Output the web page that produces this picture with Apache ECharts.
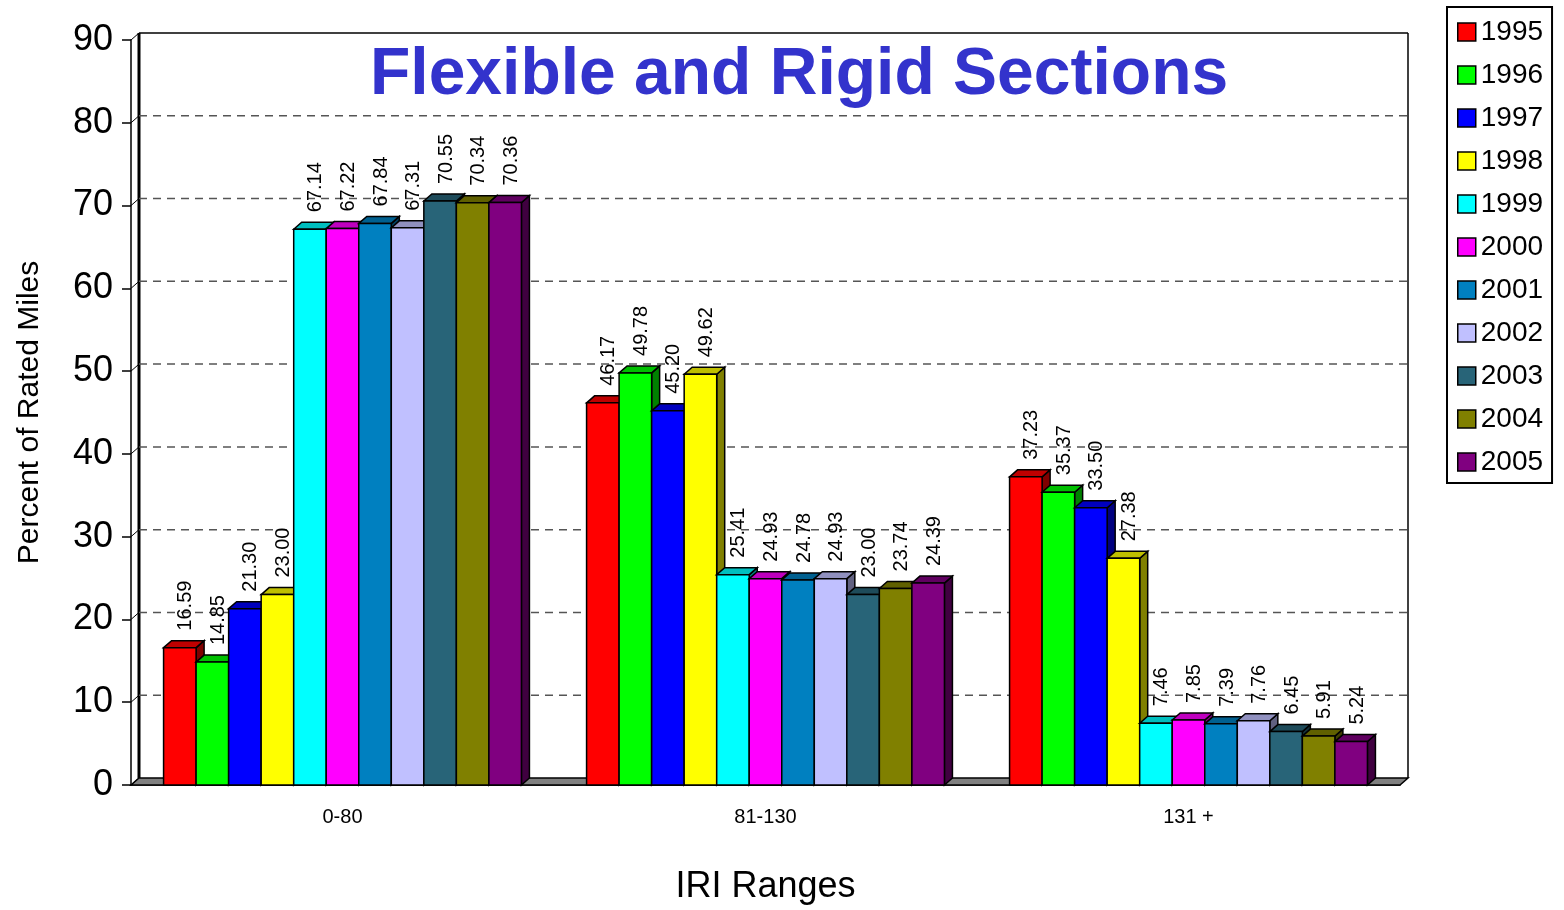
<!DOCTYPE html>
<html>
<head>
<meta charset="utf-8">
<script src="https://cdn.jsdelivr.net/npm/echarts@6/dist/echarts.min.js"></script>
<style>
  html, body { margin: 0; padding: 0; background: #fff; }
  #chart { width: 1564px; height: 910px; }
</style>
</head>
<body>
<div id="chart"></div>
<script>
// data
var categories = ["0-80", "81-130", "131 +"];
var years = ["1995", "1996", "1997", "1998", "1999", "2000", "2001", "2002", "2003", "2004", "2005"];
var v1995 = [16.59, 46.17, 37.23];
var v1996 = [14.85, 49.78, 35.37];
var v1997 = [21.30, 45.20, 33.50];
var v1998 = [23.00, 49.62, 27.38];
var v1999 = [67.14, 25.41, 7.46];
var v2000 = [67.22, 24.93, 7.85];
var v2001 = [67.84, 24.78, 7.39];
var v2002 = [67.31, 24.93, 7.76];
var v2003 = [70.55, 23.00, 6.45];
var v2004 = [70.34, 23.74, 5.91];
var v2005 = [70.36, 24.39, 5.24];
var yTicks = [0, 10, 20, 30, 40, 50, 60, 70, 80, 90];

var seriesValues = [v1995, v1996, v1997, v1998, v1999, v2000, v2001, v2002, v2003, v2004, v2005];
var colors = ["#FF0000", "#00FF00", "#0000FF", "#FFFF00", "#00FFFF", "#FF00FF",
  "#0080C0", "#C0C0FF", "#286478", "#808000", "#800080"];

// 3d depth of the bars / walls
var DX = 8, DY = 7;
var GROUP = 0.846;

function shade(hex, f) {
  var n = parseInt(hex.slice(1), 16);
  var r = Math.round(((n >> 16) & 255) * f);
  var g = Math.round(((n >> 8) & 255) * f);
  var b = Math.round((n & 255) * f);
  return "rgb(" + r + "," + g + "," + b + ")";
}

function barRenderer(idx) {
  return function (params, api) {
    var c = api.value(0), v = api.value(1);
    var base = api.coord([c, 0]);
    var top = api.coord([c, v]);
    var band = api.size([1, 0])[0];
    var gw = band * GROUP;
    var bw = gw / years.length;
    var x0 = base[0] - gw / 2 + idx * bw;
    var x1 = x0 + bw;
    var ty = top[1], by = base[1];
    var col = colors[idx];
    return {
      type: "group",
      children: [
        {
          type: "polygon",
          shape: { points: [[x1, ty], [x1 + DX, ty - DY], [x1 + DX, by - DY], [x1, by]] },
          style: { fill: shade(col, 0.5), stroke: "#000", lineWidth: 1.5 }
        },
        {
          type: "polygon",
          shape: { points: [[x0, ty], [x0 + DX, ty - DY], [x1 + DX, ty - DY], [x1, ty]] },
          style: { fill: shade(col, 0.75), stroke: "#000", lineWidth: 1.5 }
        },
        {
          type: "rect",
          shape: { x: x0, y: ty, width: bw, height: by - ty },
          style: { fill: col, stroke: "#000", lineWidth: 1.5 }
        },
        {
          type: "text",
          x: x0 + bw / 2 + 6,
          y: ty - 17,
          rotation: Math.PI / 2,
          z2: 100,
          style: {
            text: v.toFixed(2),
            x: 0, y: 0,
            align: "left",
            verticalAlign: "middle",
            fill: "#000",
            font: "20px 'Liberation Sans', Arial, sans-serif"
          }
        }
      ]
    };
  };
}

function wallRenderer(params, api) {
  var cs = params.coordSys;
  var v = api.value(1);
  var y = api.coord([0, v])[1];
  var left = cs.x, right = cs.x + cs.width;
  var floorY = cs.y + cs.height, topY = cs.y;
  var kids = [];
  if (v === yTicks[0]) {
    kids.push({
      type: "polygon",
      shape: { points: [[left, y], [right, y], [right + DX, y - DY], [left + DX, y - DY]] },
      style: { fill: "#808080", stroke: "#000", lineWidth: 1.5 }
    });
    kids.push({
      type: "line",
      shape: { x1: left + DX, y1: floorY - DY, x2: left + DX, y2: topY - DY },
      style: { stroke: "#000", lineWidth: 3 }
    });
    kids.push({
      type: "line",
      shape: { x1: right + DX, y1: floorY - DY, x2: right + DX, y2: topY - DY },
      style: { stroke: "#000", lineWidth: 1.5 }
    });
  } else if (v === yTicks[yTicks.length - 1]) {
    kids.push({
      type: "line",
      shape: { x1: left + DX, y1: y - DY, x2: right + DX, y2: y - DY },
      style: { stroke: "#000", lineWidth: 1.5 }
    });
  } else {
    kids.push({
      type: "line",
      shape: { x1: left + DX, y1: y - DY, x2: right + DX, y2: y - DY },
      style: { stroke: "#555", lineWidth: 1.5, lineDash: [8, 6] }
    });
  }
  kids.push({
    type: "line",
    shape: { x1: left, y1: y, x2: left + DX, y2: y - DY },
    style: { stroke: "#000", lineWidth: 1 }
  });
  return { type: "group", children: kids };
}

var chart = echarts.init(document.getElementById("chart"));

var series = [{
  name: "walls",
  type: "custom",
  z: 1,
  silent: true,
  renderItem: wallRenderer,
  data: yTicks.map(function (t) { return [0, t]; })
}];
years.forEach(function (yr, i) {
  series.push({
    name: yr,
    type: "custom",
    z: 2,
    renderItem: barRenderer(i),
    itemStyle: { color: colors[i], borderColor: "#000", borderWidth: 1.5 },
    data: seriesValues[i].map(function (v, c) { return [c, v]; })
  });
});

var option = {
  animation: false,
  backgroundColor: "#fff",
  textStyle: { fontFamily: "'Liberation Sans', Arial, sans-serif", color: "#000" },
  title: {
    text: "Flexible and Rigid Sections",
    left: 370,
    top: 43,
    padding: 0,
    textStyle: { fontSize: 66, fontWeight: "bold", color: "#3333CC" }
  },
  legend: {
    orient: "vertical",
    left: 1447,
    top: 7,
    data: years,
    icon: "rect",
    itemWidth: 18,
    itemHeight: 18,
    itemGap: 15,
    itemTextGap: 9,
    padding: [11, 9, 7, 10],
    borderColor: "#000",
    borderWidth: 2,
    itemStyle: { borderColor: "#000", borderWidth: 1.5 },
    textStyle: { fontSize: 28, color: "#000" }
  },
  grid: { left: 131, right: 164, top: 40, bottom: 120 },
  xAxis: {
    type: "category",
    data: categories,
    name: "IRI Ranges",
    nameLocation: "middle",
    nameGap: 84,
    nameTextStyle: { fontSize: 36, color: "#000" },
    axisLine: { lineStyle: { color: "#000", width: 1.5 } },
    axisTick: { length: 12, lineStyle: { color: "#000", width: 1.5 } },
    axisLabel: { fontSize: 20, margin: 22, color: "#000" },
    splitLine: { show: false }
  },
  yAxis: {
    type: "value",
    min: 0,
    max: 90,
    interval: 10,
    name: "Percent of Rated Miles",
    nameLocation: "middle",
    nameGap: 86,
    nameTextStyle: { fontSize: 30, color: "#000" },
    axisLine: { show: true, lineStyle: { color: "#000", width: 1.5 } },
    axisTick: { show: true, length: 9, lineStyle: { color: "#000", width: 1.5 } },
    axisLabel: { fontSize: 36, margin: 18, color: "#000" },
    splitLine: { show: false }
  },
  series: series
};
chart.setOption(option);
</script>
</body>
</html>
